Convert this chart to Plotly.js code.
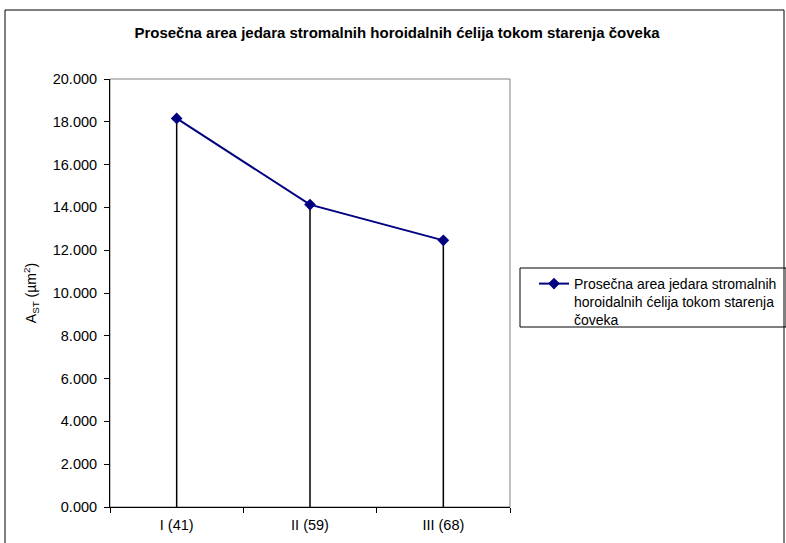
<!DOCTYPE html>
<html>
<head>
<meta charset="utf-8">
<script src="https://cdn.plot.ly/plotly-3.0.1.min.js"></script>
<style>html,body{margin:0;padding:0;background:#fff;}#chart{width:786px;height:543px;}</style>
</head>
<body>
<div id="chart"></div>
<script>
const categories = ["I (41)", "II (59)", "III (68)"];
const values = [18.16, 14.13, 12.46];
const seriesName = "Prosečna area jedara stromalnih<br>horoidalnih ćelija tokom starenja<br>čoveka";
const chartTitle = "Prosečna area jedara stromalnih horoidalnih ćelija tokom starenja čoveka";
const yTitle = "A<sub>ST</sub> (µm<sup>2</sup>)";

const FONT = "Arial, 'Liberation Sans', sans-serif";

const W = 786, H = 543;
const L = 110, R = 510, T = 79, B = 507;
const px = x => (x - L) / (R - L);
const py = y => (B - y) / (B - T);

const trace = {
  type: "scatter",
  mode: "lines+markers",
  x: categories,
  y: values,
  name: seriesName,
  line: {color: "#000080", width: 2},
  marker: {symbol: "diamond", size: 9, color: "#000080"},
  error_y: {
    type: "data",
    symmetric: false,
    array: values.map(() => 0),
    arrayminus: values,
    color: "#000000",
    thickness: 1.5,
    width: 0
  }
};

const layout = {
  width: W, height: H,
  margin: {l: L, r: W - R, t: T, b: H - B, autoexpand: false},
  paper_bgcolor: "#ffffff",
  plot_bgcolor: "#ffffff",
  font: {family: FONT, size: 14, color: "#000000"},
  title: {
    text: "<b>" + chartTitle + "</b>",
    font: {family: FONT, size: 15, color: "#000"},
    xref: "container", x: 397 / W, xanchor: "center",
    yref: "container", y: 1 - 33 / H, yanchor: "middle"
  },
  xaxis: {
    type: "category",
    range: [-0.5, 2.5],
    showgrid: false, zeroline: false,
    showline: true, linecolor: "#000", linewidth: 1,
    ticks: "outside", ticklen: 5, tickcolor: "#000",
    tickson: "boundaries",
    ticklabelstandoff: 5,
    tickfont: {family: FONT, size: 14.5}
  },
  yaxis: {
    range: [0, 20],
    dtick: 2, tick0: 0,
    tickformat: ".3f",
    showgrid: false, zeroline: false,
    showline: true, linecolor: "#000", linewidth: 1,
    ticks: "outside", ticklen: 5, tickcolor: "#000",
    ticklabelstandoff: 4,
    tickfont: {family: FONT, size: 14.5},
    title: {text: yTitle, font: {family: FONT, size: 14}, standoff: 12}
  },
  showlegend: true,
  legend: {
    x: px(534), xanchor: "left",
    y: py(268), yanchor: "top",
    borderwidth: 0,
    bgcolor: "rgba(0,0,0,0)",
    font: {family: FONT, size: 14},
    valign: "top",
    itemwidth: 30
  },
  shapes: [
    {type: "rect", xref: "paper", yref: "paper", layer: "below",
     x0: 0, x1: 1, y0: 0, y1: 1, line: {color: "#808080", width: 1}},
    {type: "rect", xref: "paper", yref: "paper", layer: "below",
     x0: px(5), x1: px(784), y0: py(10), y1: py(560), line: {color: "#000", width: 1}},
    {type: "rect", xref: "paper", yref: "paper", layer: "below",
     x0: px(520), x1: px(786), y0: py(268), y1: py(327), line: {color: "#000", width: 1}}
  ]
};

Plotly.newPlot("chart", [trace], layout, {displayModeBar: false, staticPlot: true});
</script>
</body>
</html>
